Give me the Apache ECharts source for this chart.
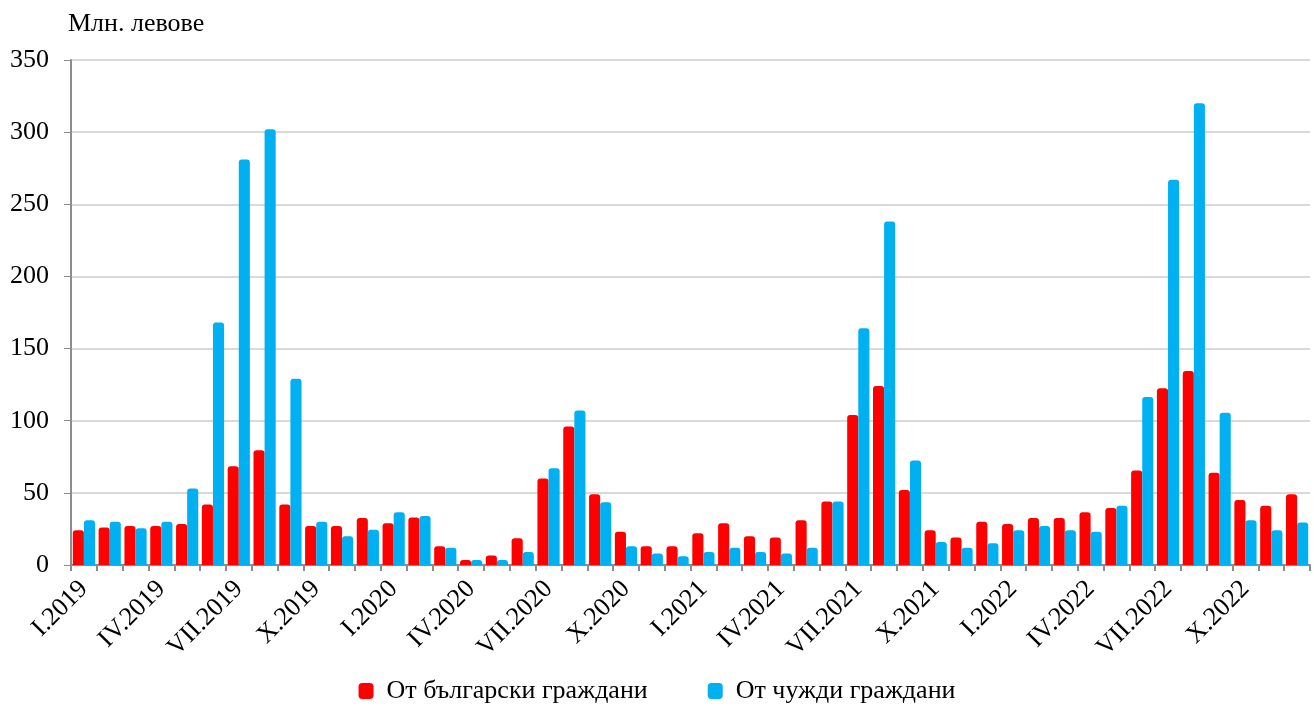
<!DOCTYPE html>
<html><head><meta charset="utf-8">
<script src="https://cdn.jsdelivr.net/npm/echarts@6/dist/echarts.min.js"></script>
<style>html,body{margin:0;padding:0;background:#fff}#c{width:1314px;height:710px}</style>
</head><body><div id="c"></div>
<script>
const romans = ['I','II','III','IV','V','VI','VII','VIII','IX','X','XI','XII'];
const years = [2019, 2020, 2021, 2022];
const categories = [];
years.forEach(y => romans.forEach(r => categories.push(r + '.' + y)));

const bulgarian = [
  24, 26, 27, 27, 28.5, 42, 68.5, 79.5, 42, 27, 27, 32.5,
  29, 33, 13, 3.5, 6.5, 18.5, 60, 96, 49, 23, 13, 13,
  22, 29, 20, 19, 31, 44, 104, 124, 52, 24, 19, 30,
  28.5, 32.5, 32.5, 36.5, 39.5, 65.5, 122.5, 134.5, 64, 45, 41, 49
];
const foreign = [
  31, 30, 25.5, 30, 53, 168, 281, 302, 129, 30, 20, 24.5,
  36.5, 34, 12, 3.5, 3.5, 9, 67, 107, 43.5, 13, 8, 6,
  9, 12, 9, 8, 12, 44, 164, 238, 72.5, 16, 12, 15,
  24, 27, 24, 23, 41, 116.5, 267, 320, 105.5, 31, 24, 29.5
];
const yTicks = { min: 0, max: 350, interval: 50 };
const seriesNames = ['От български граждани', 'От чужди граждани'];
const yUnit = 'Млн. левове';

const font = 'Liberation Serif';
const fs = 26;
const chart = echarts.init(document.getElementById('c'));
chart.setOption({
  animation: false,
  textStyle: { fontFamily: font },
  graphic: [{ type: 'text', left: 68, top: 11, style: { text: yUnit, font: fs + 'px "Liberation Serif"', fill: '#000' } }],
  legend: {
    bottom: 1, left: 'center', itemWidth: 15, itemHeight: 16, itemGap: 60,
    icon: 'roundRect',
    textStyle: { fontFamily: font, fontSize: fs, color: '#000', padding: [0, 0, 0, 8] },
    data: seriesNames
  },
  grid: { left: 71, right: 4, top: 60, bottom: 145, containLabel: false },
  xAxis: {
    type: 'category', data: categories, boundaryGap: true,
    axisLine: { lineStyle: { color: '#8c8c8c', width: 2 } },
    axisTick: { show: true, interval: 0, length: 6, lineStyle: { color: '#8c8c8c', width: 2 } },
    axisLabel: { interval: 2, rotate: 45, fontFamily: font, fontSize: fs, color: '#000', margin: 20 },
    splitLine: { show: false }
  },
  yAxis: {
    type: 'value', min: yTicks.min, max: yTicks.max, interval: yTicks.interval,
    axisLine: { show: true, lineStyle: { color: '#8c8c8c', width: 2 } },
    axisTick: { show: true, inside: false, length: 7, lineStyle: { color: '#8c8c8c', width: 1 } },
    axisLabel: { fontFamily: font, fontSize: fs, color: '#000', margin: 22 },
    splitLine: { lineStyle: { color: '#d9d9d9', width: 2 } }
  },
  series: [
    { name: seriesNames[0], type: 'bar', data: bulgarian, barGap: '0%', barCategoryGap: '14%',
      itemStyle: { color: '#ff0000', borderRadius: [3, 3, 0, 0] } },
    { name: seriesNames[1], type: 'bar', data: foreign, barGap: '0%', barCategoryGap: '14%',
      itemStyle: { color: '#00b0f0', borderRadius: [3, 3, 0, 0] } }
  ]
});
</script></body></html>
